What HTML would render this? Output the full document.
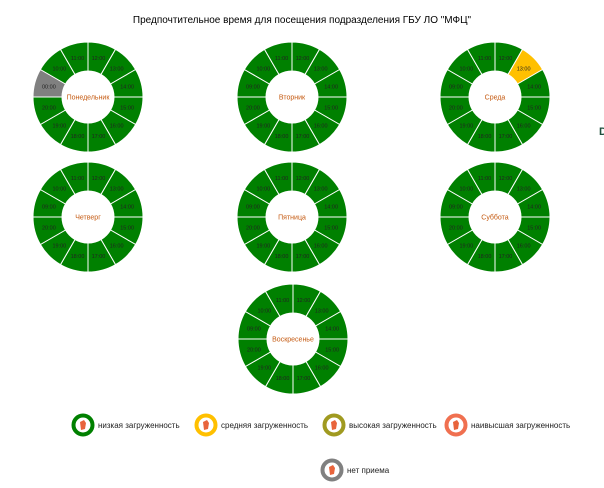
<!DOCTYPE html>
<html><head><meta charset="utf-8"><style>
body{margin:0;background:#fff;font-family:"Liberation Sans",sans-serif}
svg{display:block}
</style></head><body>
<svg id="c" width="604" height="488">
<text x="302" y="23" text-anchor="middle" font-size="10" fill="#000">Предпочтительное время для посещения подразделения ГБУ ЛО "МФЦ"</text>
<text x="599" y="135" font-size="11" font-weight="bold" fill="#1f4e3d">D</text>
<g id="donuts"></g>
<g id="legend"></g>
</svg>
<script>
const days=["Понедельник","Вторник","Среда","Четверг","Пятница","Суббота","Воскресенье"];
const hours=["12:00","13:00","14:00","15:00","16:00","17:00","18:00","19:00","20:00","09:00","10:00","11:00"];
const statusMon=["low","low","low","low","low","low","low","low","low","none","low","low"];
const statusTue=["low","low","low","low","low","low","low","low","low","low","low","low"];
const statusWed=["low","mid","low","low","low","low","low","low","low","low","low","low"];
const statusThu=["low","low","low","low","low","low","low","low","low","low","low","low"];
const statusFri=["low","low","low","low","low","low","low","low","low","low","low","low"];
const statusSat=["low","low","low","low","low","low","low","low","low","low","low","low"];
const statusSun=["low","low","low","low","low","low","low","low","low","low","low","low"];
const legendKeys=["low","mid","high","max","none"];
const legendLabels=["низкая загруженность","средняя загруженность","высокая загруженность","наивысшая загруженность","нет приема"];

const statuses=[statusMon,statusTue,statusWed,statusThu,statusFri,statusSat,statusSun];
const colors={low:"#008000",mid:"#FFC000",high:"#A09A20",max:"#F07050",none:"#808080"};
const centers=[[88,97],[292,97],[495,97],[88,217],[292,217],[495,217],[293,339]];
const NS="http://www.w3.org/2000/svg";
const R=55,r=26;
function pt(cx,cy,rad,a){return [cx+rad*Math.sin(a),cy-rad*Math.cos(a)];}
const g=document.getElementById("donuts");
days.forEach((d,i)=>{
  const [cx,cy]=centers[i];
  const grp=document.createElementNS(NS,"g");
  
  
  const n=hours.length;
  hours.forEach((h,j)=>{
    const a0=j/n*2*Math.PI,a1=(j+1)/n*2*Math.PI;
    const p1=pt(cx,cy,R,a0),p2=pt(cx,cy,R,a1),p3=pt(cx,cy,r,a1),p4=pt(cx,cy,r,a0);
    const p=document.createElementNS(NS,"path");
    p.setAttribute("d",`M${p1}A${R},${R} 0 0 1 ${p2}L${p3}A${r},${r} 0 0 0 ${p4}Z`);
    p.setAttribute("fill",colors[statuses[i][j]]);
    p.setAttribute("stroke","#fff");p.setAttribute("stroke-width","1");
    
    
    grp.appendChild(p);
    const m=pt(cx,cy,(R+r)/2,(a0+a1)/2);
    const t=document.createElementNS(NS,"text");
    t.setAttribute("x",m[0]);t.setAttribute("y",m[1]+2);
    t.setAttribute("text-anchor","middle");t.setAttribute("font-size","5.5");t.setAttribute("fill","#222");
    t.textContent=(statuses[i][j]==="none")?"00:00":h;
    
    
    grp.appendChild(t);
  });
  const t=document.createElementNS(NS,"text");
  t.setAttribute("x",cx);t.setAttribute("y",cy+2.5);t.setAttribute("text-anchor","middle");
  t.setAttribute("font-size","7");t.setAttribute("fill","#C55A11");
  t.textContent=d;
  
  
  grp.appendChild(t);
  g.appendChild(grp);
});
const lg=document.getElementById("legend");
const lpos=[[83,425],[206,425],[334,425],[456,425],[332,470]];
legendKeys.forEach((k,i)=>{
  const [x,y]=lpos[i];
  const e=document.createElementNS(NS,"g");
  
  
  e.innerHTML=`<circle cx="${x}" cy="${y}" r="9.5" fill="#fff" stroke="${colors[k]}" stroke-width="4"/><path d="M${x-3},${y-3}l4,-2l2,3l-1,6l-4,1z" fill="#E8643C"/><text x="${x+15}" y="${y+3}" font-size="8" fill="#222">${legendLabels[i]}</text>`;
  lg.appendChild(e);
});
</script>
</body></html>
